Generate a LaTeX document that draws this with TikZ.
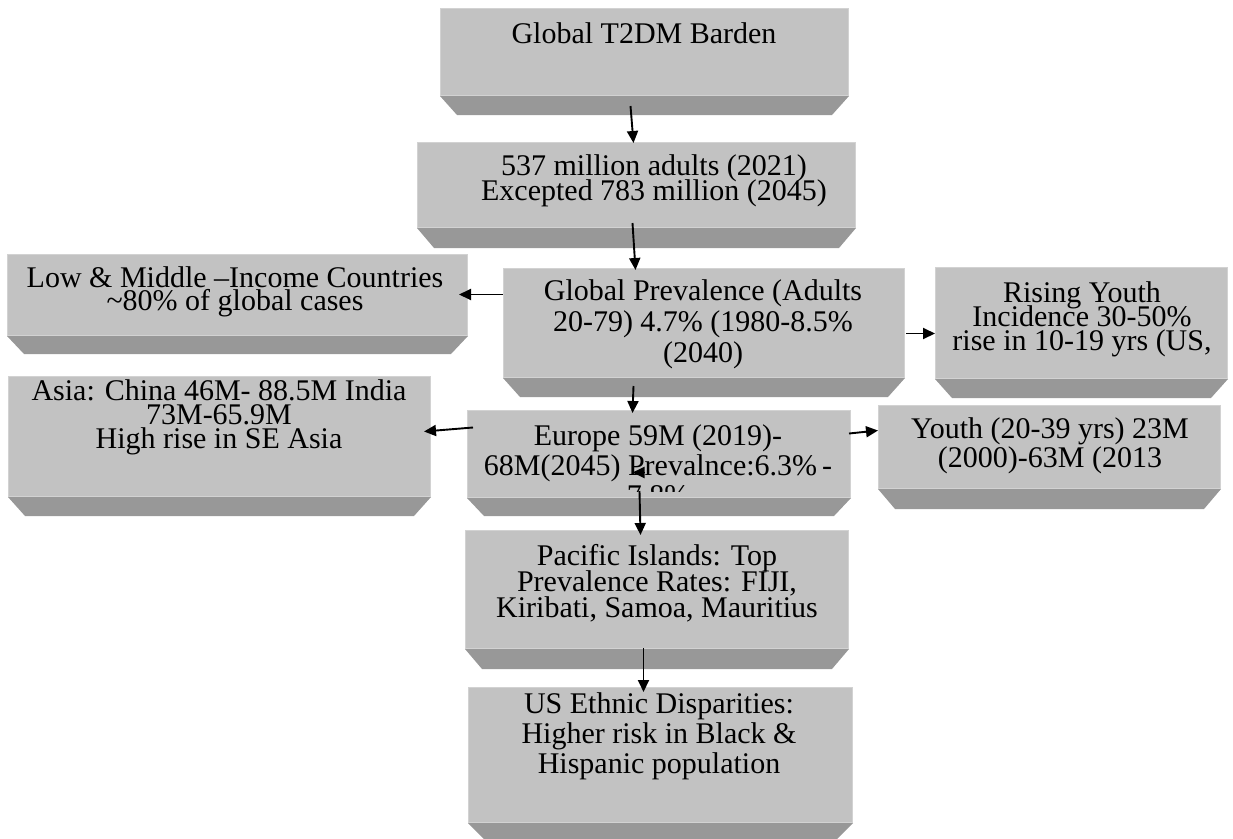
\documentclass[tikz,border=0pt]{standalone}
\usepackage{fontspec}
\setmainfont{Liberation Serif}
\usetikzlibrary{arrows.meta,calc}
\definecolor{facegray}{RGB}{194,194,194}
\definecolor{rimgray}{RGB}{210,210,210}
\definecolor{bevelgray}{RGB}{152,152,152}
\tikzset{
  face/.style={fill=facegray, draw=rimgray, line width=1pt, inner sep=0pt, anchor=north west},
  bevelfill/.style={fill=bevelgray},
  txt/.style={font=\fontsize{30}{30}\selectfont, anchor=base, inner sep=0pt},
  arr/.style={line width=1.9pt, -{Triangle[length=12pt,width=11pt]}}
}
\newcommand{\bevelbox}[2]{\fill[bevelfill] (#1.south west) -- (#1.south east) -- ++(-17,#2) -- ($(#1.south west)+(17,#2)$) -- cycle;}
\newcommand{\stacklines}[2]{\vtop{\baselineskip=#1pt\lineskiplimit=-100pt\lineskip=0pt\halign{\hfil##\hfil\cr #2\crcr}}}
\begin{document}
\begin{tikzpicture}[x=1pt,y=-1pt]
\useasboundingbox (0,0) rectangle (1233,838);
% faces
\node[face, minimum width=408pt, minimum height=87pt] (b1) at (440,8) {};
\node[face, minimum width=438pt, minimum height=85pt] (b2) at (417,142) {};
\node[face, minimum width=460pt, minimum height=81pt] (lm) at (7,254) {};
\node[face, minimum width=401pt, minimum height=109pt] (gp) at (503,268) {};
\node[face, minimum width=292pt, minimum height=111pt] (ry) at (935,267) {};
\node[face, minimum width=422pt, minimum height=120pt] (as) at (8,376) {};
\node[face, minimum width=383pt, minimum height=87pt] (eu) at (467,410) {};
\node[face, minimum width=342pt, minimum height=83pt] (yo) at (878,405) {};
\node[face, minimum width=383pt, minimum height=118pt] (pa) at (465,530) {};
\node[face, minimum width=384pt, minimum height=135pt] (us) at (468,687) {};
% bevels
\bevelbox{b1}{19}
\bevelbox{b2}{20}
\bevelbox{lm}{18}
\bevelbox{gp}{19}
\bevelbox{ry}{19}
\bevelbox{as}{19}
\bevelbox{eu}{18}
\bevelbox{yo}{20}
\bevelbox{pa}{20}
\bevelbox{us}{17}
% texts
\node[txt] (b1t) at (644,43) {Global T2DM Barden};
\node[txt] (b2t) at (654,175) {\stacklines{25}{537 million adults (2021)\cr Excepted 783 million (2045)}};
\node[txt] (lmt) at (235,287) {\stacklines{23}{Low \& Middle –Income Countries\cr \char`\~80\% of global cases}};
\node[txt] (gpt) at (703,300) {\stacklines{31}{Global Prevalence (Adults\cr 20-79) 4.7\% (1980-8.5\%\cr (2040)}};
\node[txt] (ryt) at (1082,302) {\stacklines{24}{Rising Youth\cr Incidence 30-50\%\cr rise in 10-19 yrs (US,}};
\node[txt] (ast) at (219,400) {\stacklines{24}{Asia: China 46M- 88.5M India\cr 73M-65.9M\cr High rise in SE Asia}};
\begin{scope}
\clip (467,410) rectangle (850,491);
\node[txt] (eut) at (658,445) {\stacklines{30}{Europe 59M (2019)-\cr 68M(2045) Prevalnce:6.3\%\,-\cr 7.8\%}};
\end{scope}
\node[txt] (yot) at (1050,438) {\stacklines{29}{Youth (20-39 yrs) 23M\cr (2000)-63M (2013}};
\node[txt] (pat) at (657,565) {\stacklines{26}{Pacific Islands: Top\cr Prevalence Rates: FIJI,\cr Kiribati, Samoa, Mauritius}};
\node[txt] (ust) at (659,713) {\stacklines{30}{US Ethnic Disparities:\cr Higher risk in Black \&\cr Hispanic population}};
% arrows
\draw[arr] ([shift={(-14,10)}]b1.south) -- ([shift={(-3,1)}]b2.north);
\draw[arr] ([shift={(-4,-5)}]b2.south) -- ([shift={(-68.5,2)}]gp.north);
\draw[arr] ([shift={(0,-28.5)}]gp.west) -- ([shift={(-9,-0.5)}]lm.east);
\draw[arr] ([shift={(1,10.5)}]gp.east) -- ([shift={(0,10.5)}]ry.west);
\draw[arr] ([shift={(-70.5,8)}]gp.south) -- ([shift={(-26.5,3)}]eu.north);
\draw[arr] ([shift={(6,-26.5)}]eu.west) -- ([shift={(-7,-5)}]as.east);
\draw[arr] ([shift={(-2,-20.5)}]eu.east) -- ([shift={(0,-16.5)}]yo.west);
\draw[arr] ([shift={(-14.5,18.5)}]eu.center) -- ([shift={(-26.5,18.5)}]eu.center);
\draw[arr] ([shift={(-19.5,-7)}]eu.south) -- ([shift={(-16.5,5)}]pa.north);
\draw[arr] ([shift={(-13.5,-1)}]pa.south) -- ([shift={(-17,5)}]us.north);
\end{tikzpicture}
\end{document}
